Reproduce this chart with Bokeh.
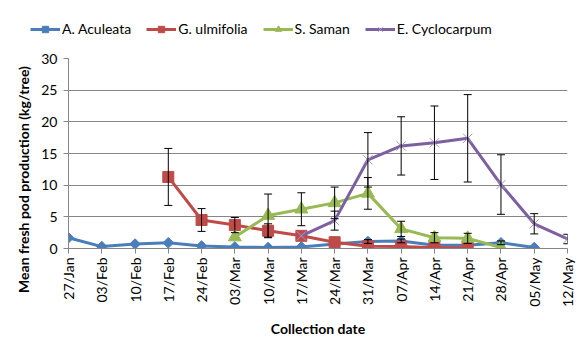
import math
from bokeh.plotting import figure
from bokeh.layouts import column, row
from bokeh.models import (Range1d, FixedTicker, Legend, LegendItem, Whisker,
                          ColumnDataSource, TeeHead, Label)
from bokeh.embed import file_html
from bokeh.resources import INLINE

nan = float("nan")

dates = ["27/Jan", "03/Feb", "10/Feb", "17/Feb", "24/Feb", "03/Mar", "10/Mar",
         "17/Mar", "24/Mar", "31/Mar", "07/Apr", "14/Apr", "21/Apr", "28/Apr",
         "05/May", "12/May"]

aculeata = [1.7, 0.3, 0.7, 0.9, 0.4, 0.25, 0.15, 0.25, 0.7, 1.1, 1.2, 0.5, 0.5, 0.9, 0.15, nan]
aculeata_err = [nan, nan, nan, nan, nan, nan, nan, nan, nan, 0.3, 0.3, nan, nan, 0.3, nan, nan]

ulmifolia = [nan, nan, nan, 11.3, 4.5, 3.7, 2.8, 2.0, 1.0, 0.35, 0.3, 0.1, 0.1, nan, nan, nan]
ulmifolia_err = [nan, nan, nan, 4.5, 1.8, 1.2, 1.1, nan, nan, nan, nan, nan, nan, nan, nan, nan]

saman = [nan, nan, nan, nan, nan, 1.8, 5.2, 6.2, 7.2, 8.7, 3.1, 1.7, 1.6, 0.15, nan, nan]
saman_err = [nan, nan, nan, nan, nan, nan, 3.4, 2.6, 2.5, 2.5, 1.2, 0.8, 0.8, nan, nan, nan]

cyclo = [nan, nan, nan, nan, nan, nan, nan, 2.0, 4.4, 14.0, 16.2, 16.7, 17.4, 10.1, 3.9, 1.5]
cyclo_err = [nan, nan, nan, nan, nan, nan, nan, nan, 1.5, 4.3, 4.6, 5.8, 6.9, 4.7, 1.6, 0.75]

y_ticks = [0, 5, 10, 15, 20, 25, 30]

series_names = ["A. Aculeata", "G. ulmifolia", "S. Saman", "E. Cyclocarpum"]
y_title = "Mean fresh pod production (kg/tree)"
x_title = "Collection date"

FONT = "Lato"
x = list(range(len(dates)))
all_series = [aculeata, ulmifolia, saman, cyclo]

W, H = 586, 340
LAB_W = 34
LEG_H = 45


def blank(fig):
    fig.outline_line_color = None
    fig.xgrid.grid_line_color = None
    fig.ygrid.grid_line_color = None


# ---------------- main chart ----------------
p = figure(width=W - LAB_W, height=H - LEG_H, output_backend="svg", toolbar_location=None,
           x_range=Range1d(0, len(dates) - 1), y_range=Range1d(0, 30),
           min_border_left=68 - LAB_W, min_border_right=19, min_border_top=13,
           min_border_bottom=92)
p.outline_line_color = None
p.background_fill_color = "white"
p.border_fill_color = "white"

p.xaxis.ticker = FixedTicker(ticks=x)
p.xaxis.major_label_overrides = {i: d for i, d in enumerate(dates)}
p.xaxis.major_label_orientation = math.pi / 2
p.yaxis.ticker = FixedTicker(ticks=y_ticks)
for ax in (p.xaxis, p.yaxis):
    ax.axis_line_color = "#868686"
    ax.major_tick_line_color = "#868686"
    ax.minor_tick_line_color = None
    ax.major_tick_in = 0
    ax.major_tick_out = 5
    ax.major_label_text_font = FONT
    ax.major_label_text_font_size = "14px"
    ax.major_label_text_color = "#000000"
    ax.axis_label_text_font = FONT
    ax.axis_label_text_font_size = "14px"
    ax.axis_label_text_font_style = "bold"
    ax.axis_label_text_color = "#000000"
p.xaxis.axis_label = x_title
p.xaxis.major_label_standoff = 4
p.yaxis.major_label_standoff = 6
p.xaxis.axis_label_standoff = 10

p.xgrid.grid_line_color = None
p.ygrid.grid_line_color = "#868686"
p.ygrid.grid_line_width = 1


def add_err(vals, errs):
    xs, up, lo = [], [], []
    for i, (v, e) in enumerate(zip(vals, errs)):
        if not (math.isnan(v) or math.isnan(e)):
            xs.append(i)
            up.append(v + e)
            lo.append(v - e)
    src = ColumnDataSource(dict(x=xs, upper=up, lower=lo))
    w = Whisker(source=src, base="x", upper="upper", lower="lower",
                line_color="black", line_width=1, level="glyph",
                upper_head=TeeHead(size=8, line_color="black", line_width=1),
                lower_head=TeeHead(size=8, line_color="black", line_width=1))
    p.add_layout(w)


for vals, errs in [(aculeata, aculeata_err), (ulmifolia, ulmifolia_err),
                   (saman, saman_err), (cyclo, cyclo_err)]:
    add_err(vals, errs)

styles = [
    # line colour, marker, size, fill, marker line, angle
    ("#4A7EBB", "square", 7.5, "#4A7EBB", "#4A7EBB", math.pi / 4),
    ("#BE4B48", "square", 11, "#BE4B48", "#BE4B48", 0.0),
    ("#98B954", "triangle", 13, "#98B954", "#98B954", 0.0),
    ("#7D60A0", "x", 13, None, "#A898C8", 0.0),
]


def draw(fig, xs, ys, st):
    col, marker, size, fill, mline, ang = st
    src = ColumnDataSource(dict(x=xs, y=ys))
    lr = fig.line("x", "y", source=src, line_color=col, line_width=3)
    if fill is None:
        mr = fig.scatter("x", "y", source=src, marker=marker, size=size,
                         line_color=mline, line_width=1)
    else:
        mr = fig.scatter("x", "y", source=src, marker=marker, size=size,
                         angle=ang, fill_color=fill, line_color=mline)
    return lr, mr


for vals, st in zip(all_series, styles):
    draw(p, x, vals, st)

# ---------------- legend strip (same series, drawn out of view) ----------------
lf = figure(width=W, height=LEG_H, output_backend="svg", toolbar_location=None,
            x_range=Range1d(0, 1), y_range=Range1d(1000, 1001),
            x_axis_type=None, y_axis_type=None,
            min_border=0, min_border_left=0, min_border_right=0,
            min_border_top=0, min_border_bottom=0)
blank(lf)

items = []
for name, vals, st in zip(series_names, all_series, styles):
    lr, mr = draw(lf, x, vals, st)
    items.append(LegendItem(label=name, renderers=[lr, mr]))

legend = Legend(items=items, orientation="horizontal", location=(30, 8),
                label_text_font=FONT, label_text_font_size="14px",
                label_text_color="#000000", glyph_width=30, glyph_height=16,
                spacing=15, padding=3, margin=0, label_standoff=2,
                border_line_color=None, background_fill_alpha=0)
lf.add_layout(legend)

# ---------------- y-axis title strip ----------------
yf = figure(width=LAB_W, height=H - LEG_H, output_backend="svg", toolbar_location=None,
            x_range=Range1d(0, 1), y_range=Range1d(0, 1),
            x_axis_type=None, y_axis_type=None,
            min_border=0, min_border_left=0, min_border_right=0,
            min_border_top=0, min_border_bottom=0)
blank(yf)
yf.add_layout(Label(x=23, y=H - 179, x_units="screen", y_units="screen",
                    text=y_title, angle=math.pi / 2, text_align="center",
                    text_baseline="middle", text_font=FONT, text_font_size="14px",
                    text_font_style="bold", text_color="#000000"))

layout = column(lf, row(column(yf, spacing=0), p, spacing=0), spacing=0)
open("out.html", "w").write(file_html(layout, INLINE))
